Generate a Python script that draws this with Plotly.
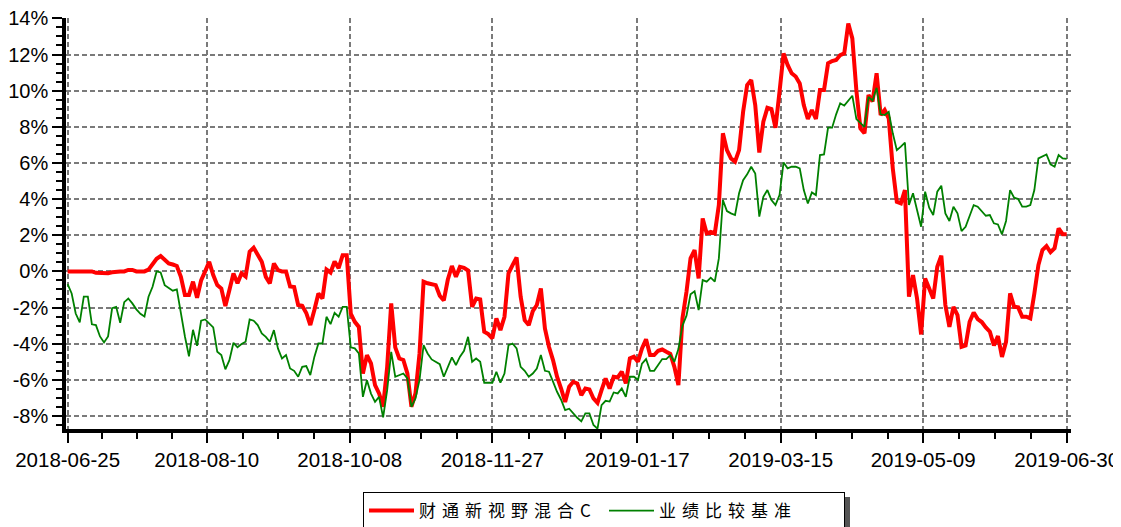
import plotly.graph_objects as go

# ---- data ----
tick_labels = ["2018-06-25", "2018-08-10", "2018-10-08", "2018-11-27",
               "2019-01-17", "2019-03-15", "2019-05-09", "2019-06-30"]
tick_positions = [0, 34.4, 69.75, 105, 140.8, 176.3, 211.5, 247]
y_tick_values = [-8, -6, -4, -2, 0, 2, 4, 6, 8, 10, 12, 14]
y_tick_labels = ["-8%", "-6%", "-4%", "-2%", "0%", "2%", "4%", "6%",
                 "8%", "10%", "12%", "14%"]

fund_name = "财通新视野混合C"
bench_name = "业绩比较基准"

fund_values = [
    0, 0, 0, 0, 0, 0, 0, -0.08, -0.1, -0.1,
    -0.1, -0.05, 0, 0, 0, 0.08, 0.08, 0, 0, 0,
    0.1, 0.45, 0.7, 0.85, 0.65, 0.44, 0.38, 0.3, -0.3, -1.3,
    -1.3, -0.57, -1.46, -0.5, 0.0, 0.53, -0.2, -0.76, -0.95, -1.92,
    -1.03, -0.11, -0.66, -0.1, -0.28, 1.09, 1.31, 0.96, 0.53, -0.3,
    -0.66, 0.44, 0.07, 0.0, 0.0, -0.83, -0.86, -1.86, -1.9, -2.3,
    -2.97, -2.14, -1.22, -1.5, 0.1, -0.06, 0.55, 0.18, 0.9, 0.9,
    -2.33, -2.79, -3.07, -5.65, -4.63, -5.09, -6.29, -6.75, -7.49, -5.28,
    -1.77, -4.2, -4.82, -4.9, -5.65, -7.49, -6.75, -4.54, -0.57, -0.66,
    -0.7, -0.76, -1.35, -1.6, -0.45, 0.3, -0.3, 0.25, 0.2, 0.05,
    -1.96, -1.5, -1.55, -3.34, -3.47, -3.71, -2.6, -3.25, -2.51, -0.11,
    0.35, 0.77, -1.4, -2.7, -2.97, -2.2, -1.86, -0.94, -3.15, -4.17,
    -4.91, -5.83, -6.48, -7.22, -6.38, -6.11, -6.2, -6.85, -6.48, -6.53,
    -7.03, -7.27, -6.57, -5.92, -6.48, -5.83, -5.87, -5.55, -6.2, -4.82,
    -4.72, -5.0, -4.26, -3.76, -4.63, -4.63, -4.39, -4.32, -4.45, -4.57,
    -5.28, -6.29, -2.6, -1.13, 0.72, 1.18, -0.39, 2.93, 2.1, 2.18,
    2.1, 3.67, 7.64, 6.71, 6.25, 6.07, 6.71, 8.83, 10.31, 10.59,
    9.2, 6.58, 8.28, 9.05, 8.98, 7.95, 9.94, 12.06, 11.42, 10.96,
    10.78, 10.4, 9.2, 8.43, 8.93, 8.43, 10.03, 10.03, 11.51, 11.64,
    11.7, 11.97, 12.06, 13.72, 12.89, 10.0, 7.91, 7.64, 9.76, 9.4,
    10.96, 8.65, 8.93, 8.47, 5.7, 3.85, 3.76, 4.5, -1.4, -0.2,
    -1.5, -3.49, -0.39, -0.94, -1.5, 0.26, 0.87, -1.86, -3.07, -1.96,
    -2.42, -4.17, -4.1, -2.79, -2.27, -2.64, -2.8, -3.1, -3.34, -4.1,
    -3.58, -4.73, -3.9, -1.22, -1.96, -1.99, -2.51, -2.51, -2.6, -1.22,
    0.35, 1.18, 1.4, 1.06, 1.28, 2.38, 2.06, 2.06,
]

bench_values = [
    -0.7, -1.22, -2.33, -2.82, -1.4, -1.4, -2.93, -2.97, -3.6, -3.93,
    -3.6, -2.04, -1.96, -2.84, -1.7, -1.5, -1.77, -2.1, -2.35, -2.5,
    -1.4, -0.85, 0.0, -0.06, -0.76, -0.94, -1.07, -1.0, -2.33, -3.6,
    -4.7, -3.23, -4.12, -2.73, -2.66, -2.9, -3.1, -4.45, -4.63, -5.42,
    -4.91, -3.95, -4.2, -4.02, -3.89, -2.66, -2.73, -2.97, -3.43, -3.62,
    -3.89, -3.25, -4.26, -4.82, -4.63, -5.37, -5.5, -5.83, -5.28, -5.24,
    -5.74, -4.73, -3.99, -3.99, -2.51, -2.92, -2.29, -2.51, -1.96, -1.96,
    -4.2, -4.26, -4.54, -6.94, -6.02, -6.76, -7.22, -6.94, -8.08, -6.57,
    -4.45, -5.83, -5.74, -5.65, -5.92, -7.49, -7.03, -6.0, -4.08, -4.54,
    -4.87, -5.0, -5.13, -5.83, -5.28, -4.76, -5.18, -4.72, -4.39, -3.62,
    -5.0, -4.82, -5.0, -6.16, -6.16, -6.16, -5.55, -6.16, -5.65, -4.08,
    -3.99, -4.26, -5.28, -5.5, -5.83, -5.65, -5.37, -4.63, -5.5, -5.55,
    -6.1, -6.66, -7.1, -7.67, -7.6, -7.86, -8.1, -8.3, -7.86, -7.86,
    -8.5, -8.7, -7.4, -7.16, -7.2, -6.7, -6.75, -6.48, -6.94, -5.83,
    -5.83, -6.0, -5.1, -4.85, -5.5, -5.5, -5.2, -4.85, -4.85, -4.63,
    -5.0, -4.3, -3.0, -2.45, -1.27, -1.1, -2.14, -0.48, -0.57, -0.35,
    -0.57, 0.72, 3.95, 3.34, 3.21, 3.12, 4.32, 5.05, 5.37, 5.79,
    5.42, 3.03, 4.13, 4.5, 3.95, 3.67, 4.22, 6.03, 5.7, 5.79,
    5.79, 5.7, 4.5, 3.76, 4.37, 4.22, 6.44, 6.47, 7.95, 7.95,
    8.69, 9.3, 9.17, 9.48, 9.72, 8.43, 8.24, 8.0, 9.66, 9.45,
    10.16, 8.69, 8.65, 8.83, 7.64, 6.71, 6.9, 7.13, 3.67, 4.32,
    3.4, 2.47, 4.41, 3.52, 3.12, 4.41, 4.74, 3.21, 2.79, 3.58,
    3.21, 2.23, 2.47, 3.12, 3.67, 3.58, 3.3, 3.08, 3.12, 2.66,
    2.6, 2.05, 2.79, 4.5, 4.08, 4.0, 3.58, 3.58, 3.67, 4.5,
    6.25, 6.34, 6.47, 5.92, 5.79, 6.44, 6.25, 6.22,
]

assert len(fund_values) == len(bench_values) == 248
x_index = list(range(len(fund_values)))

# ---- styling ----
# the page body has an 8px default margin, so the figure is sized to fit
FIG_W, FIG_H = 1113, 519
TICK_FONT = dict(family="Arial, Liberation Sans, sans-serif", size=20, color="black")
GRID = dict(gridcolor="#7a7a7a", gridwidth=1.6, griddash="5px,3px")
LEG_SPAN = '<span style="letter-spacing:6px">{}</span>'

minor_x = [a + (b - a) * k / 4
           for a, b in zip(tick_positions[:-1], tick_positions[1:])
           for k in (1, 2, 3)]

fig = go.Figure()
fig.add_trace(go.Scatter(x=x_index, y=fund_values, mode="lines",
                         name=LEG_SPAN.format(fund_name),
                         line=dict(color="#FF0000", width=4)))
fig.add_trace(go.Scatter(x=x_index, y=bench_values, mode="lines",
                         name=LEG_SPAN.format(bench_name),
                         line=dict(color="#008000", width=1.8)))
# empty helper trace so that the grid-only overlay axis is drawn
fig.add_trace(go.Scatter(x=[], y=[], yaxis="y2", showlegend=False,
                         hoverinfo="skip", mode="lines"))

yrange = [-8.72, 14.02]
PW, PH = 1005, 411   # plot area size in px


def px_x(px):  # page px -> paper fraction
    return (px - 66) / PW


def px_y(py):
    return (429 - py) / PH


fig.update_layout(
    width=FIG_W, height=FIG_H,
    margin=dict(l=58, r=50, t=10, b=98, autoexpand=False),
    plot_bgcolor="white", paper_bgcolor="white",
    showlegend=True,
    legend=dict(orientation="h", x=px_x(363), xanchor="left",
                y=px_y(492), yanchor="top", itemwidth=45,
                entrywidth=180, entrywidthmode="pixels",
                bgcolor="white", bordercolor="black", borderwidth=1,
                font=dict(family="Noto Sans CJK SC, sans-serif", size=17, color="black")),
    xaxis=dict(range=[-0.4, 248.06], tickmode="array", automargin=False,
               tickvals=tick_positions, ticktext=tick_labels,
               ticklabeloverflow="allow",
               ticks="outside", ticklen=10, tickwidth=1.5, tickcolor="black",
               showline=True, linecolor="black", linewidth=3.5,
               showgrid=True, zeroline=False,
               tickfont=dict(TICK_FONT, size=20.5),
               minor=dict(tickmode="array", tickvals=minor_x, ticks="outside",
                          ticklen=6, tickwidth=1.5, tickcolor="black", showgrid=False),
               **GRID),
    yaxis=dict(range=yrange, tickmode="array", tickvals=y_tick_values,
               ticktext=y_tick_labels, automargin=False, ticklabeloverflow="allow",
               ticks="outside", ticklen=10, tickwidth=1.5,
               tickcolor="black", showline=True, linecolor="black", linewidth=3.5,
               showgrid=False, zeroline=False, tickfont=TICK_FONT,
               minor=dict(dtick=0.5, tick0=0, ticks="outside", ticklen=6,
                          tickwidth=1.5, tickcolor="black", showgrid=False)),
    yaxis2=dict(range=yrange, overlaying="y", tickmode="array", automargin=False,
                tickvals=[v for v in y_tick_values if v < 14], showticklabels=False,
                ticks="", showline=False, zeroline=False, showgrid=True, **GRID),
    shapes=[dict(type="rect", xref="paper", yref="paper",
                 x0=px_x(843.5), x1=px_x(850),
                 y0=px_y(497), y1=px_y(540),
                 fillcolor="#555555", line=dict(width=0), layer="below")],
)

fig.write_html("out.html")
